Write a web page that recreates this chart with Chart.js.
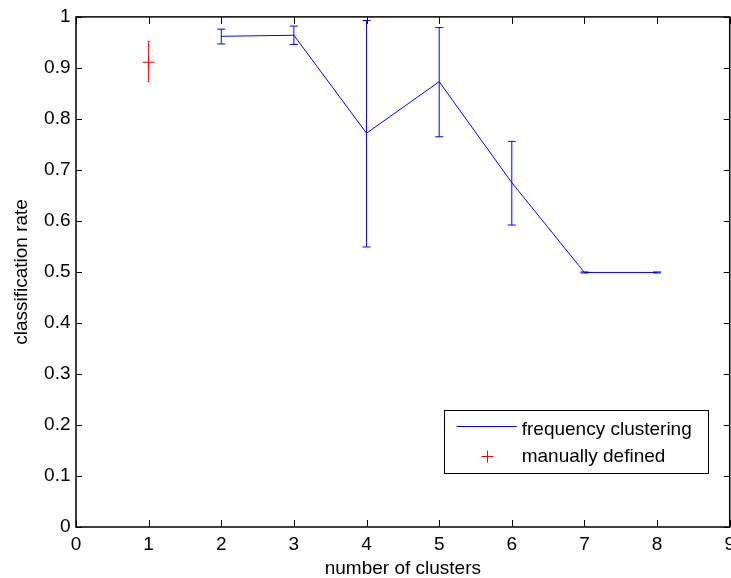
<!DOCTYPE html>
<html lang="en">
<head>
<meta charset="UTF-8" />
<title>Classification rate vs number of clusters</title>
<script src="https://cdn.jsdelivr.net/npm/chart.js"></script>
<style>
  html, body { margin: 0; padding: 0; background: #fff; overflow: hidden; }
  /* the canvas is a little wider than the window so the last x label is cut at the edge */
  #wrap { width: 731px; height: 578px; overflow: hidden; }
</style>
</head>
<body>
<div id="wrap"><canvas id="rateChart" width="741" height="578"></canvas></div>
<script>
// data
const clusterCounts = [2, 3, 4, 5, 6, 7, 8];
const freqRate = [0.962, 0.964, 0.772, 0.873, 0.675, 0.499, 0.499];
const freqLow  = [0.947, 0.946, 0.549, 0.765, 0.592, 0.498, 0.498];
const freqHigh = [0.976, 0.982, 0.993, 0.979, 0.756, 0.500, 0.500];

const manualCounts = [1];
const manualRate = [0.911];
const manualLow  = [0.873];
const manualHigh = [0.952];

const xTicks = [0, 1, 2, 3, 4, 5, 6, 7, 8, 9];
const yTicks = [0, 0.1, 0.2, 0.3, 0.4, 0.5, 0.6, 0.7, 0.8, 0.9, 1];

const BLUE = 'rgb(0,0,255)';
const RED = 'rgb(255,0,0)';
const FONT = "'Liberation Sans', Arial, Helvetica, sans-serif";
const FSIZE = 19;

// error bars, box with inward ticks, and the legend
const matlabAxes = {
  id: 'matlabAxes',
  afterDatasetsDraw(chart) {
    const ctx = chart.ctx;
    const {left, right, top, bottom} = chart.chartArea;
    const xs = chart.scales.x, ys = chart.scales.y;
    ctx.save();

    // error bars
    chart.data.datasets.forEach(ds => {
      ctx.strokeStyle = ds.borderColor;
      ctx.lineWidth = 1;
      ds.data.forEach((p, i) => {
        const px = xs.getPixelForValue(p.x);
        const yLo = ys.getPixelForValue(ds.low[i]);
        const yHi = ys.getPixelForValue(ds.high[i]);
        const c = ds.capHalf;
        ctx.beginPath();
        ctx.moveTo(px, yLo); ctx.lineTo(px, yHi);
        ctx.moveTo(px - c, yLo); ctx.lineTo(px + c, yLo);
        ctx.moveTo(px - c, yHi); ctx.lineTo(px + c, yHi);
        ctx.stroke();
      });
    });

    // ticks on all four sides, pointing in
    ctx.strokeStyle = '#000';
    ctx.lineWidth = 1;
    ctx.beginPath();
    xTicks.forEach(v => {
      const px = Math.round(xs.getPixelForValue(v)) + 0.5;
      ctx.moveTo(px, bottom); ctx.lineTo(px, bottom - 7);
      ctx.moveTo(px, top); ctx.lineTo(px, top + 7);
    });
    yTicks.forEach(v => {
      const py = Math.round(ys.getPixelForValue(v)) + 0.5;
      ctx.moveTo(left, py); ctx.lineTo(left + 6, py);
      ctx.moveTo(right, py); ctx.lineTo(right - 6, py);
    });
    ctx.stroke();

    ctx.lineWidth = 1.5;
    ctx.strokeRect(left, top, right - left, bottom - top);

    // legend box, bottom right inside the axes
    const w = 264, h = 63;
    const lx = right - 22 - w, ly = bottom - 54 - h;
    ctx.fillStyle = '#fff';
    ctx.fillRect(lx, ly, w, h);
    ctx.lineWidth = 1;
    ctx.strokeStyle = '#000';
    ctx.strokeRect(Math.round(lx) + 0.5, ly + 0.5, w, h);

    const ds0 = chart.data.datasets[0], ds1 = chart.data.datasets[1];
    ctx.font = FSIZE + 'px ' + FONT;
    ctx.textBaseline = 'alphabetic';
    ctx.textAlign = 'left';
    ctx.fillStyle = '#000';

    ctx.strokeStyle = ds0.borderColor;
    ctx.beginPath();
    ctx.moveTo(lx + 13, ly + 16.5); ctx.lineTo(lx + 73, ly + 16.5);
    ctx.stroke();
    ctx.fillText(ds0.label, lx + 78, ly + 24.5);

    const cx = Math.round(lx + 43) + 0.5, cy = ly + 46.5;
    ctx.strokeStyle = ds1.borderColor;
    ctx.beginPath();
    ctx.moveTo(cx - 6, cy); ctx.lineTo(cx + 6, cy);
    ctx.moveTo(cx, cy - 6); ctx.lineTo(cx, cy + 6);
    ctx.stroke();
    ctx.fillText(ds1.label, lx + 78, ly + 51.5);

    ctx.restore();
  }
};

const tickFont = {family: FONT, size: FSIZE};
const titleFont = {family: FONT, size: FSIZE, lineHeight: 1};

new Chart(document.getElementById('rateChart'), {
  type: 'scatter',
  data: {
    datasets: [
      {
        label: 'frequency clustering',
        data: clusterCounts.map((c, i) => ({x: c, y: freqRate[i]})),
        low: freqLow,
        high: freqHigh,
        capHalf: 4,
        showLine: true,
        borderColor: BLUE,
        backgroundColor: BLUE,
        borderWidth: 1,
        pointRadius: 0,
        tension: 0
      },
      {
        label: 'manually defined',
        data: manualCounts.map((c, i) => ({x: c, y: manualRate[i]})),
        low: manualLow,
        high: manualHigh,
        capHalf: 1,
        showLine: false,
        pointStyle: 'cross',
        pointRadius: 6,
        borderColor: RED,
        backgroundColor: RED,
        borderWidth: 1
      }
    ]
  },
  options: {
    responsive: false,
    animation: false,
    events: [],
    layout: {autoPadding: false, padding: {top: 16, right: 1.5, left: 0, bottom: 0}},
    plugins: {
      legend: {display: false},
      tooltip: {enabled: false}
    },
    scales: {
      x: {
        type: 'linear',
        min: 0,
        max: 9,
        afterBuildTicks: s => { s.ticks = xTicks.map(v => ({value: v})); },
        afterFit: s => { s.height = 51; },
        grid: {display: false, drawTicks: false},
        border: {display: false},
        ticks: {
          color: '#000', font: tickFont, padding: 6,
          maxRotation: 0, autoSkip: false,
          callback: v => String(v)
        },
        title: {display: true, text: 'number of clusters', color: '#000', font: titleFont, padding: 0}
      },
      y: {
        type: 'linear',
        min: 0,
        max: 1,
        afterBuildTicks: s => { s.ticks = yTicks.map(v => ({value: v})); },
        afterFit: s => { s.width = 76; },
        grid: {display: false, drawTicks: false},
        border: {display: false},
        ticks: {
          color: '#000', font: tickFont, padding: 5.5,
          autoSkip: false,
          callback: v => String(v)
        },
        title: {display: true, text: 'classification rate', color: '#000', font: titleFont, padding: {top: 12, bottom: 0}}
      }
    }
  },
  plugins: [matlabAxes]
});
</script>
</body>
</html>
